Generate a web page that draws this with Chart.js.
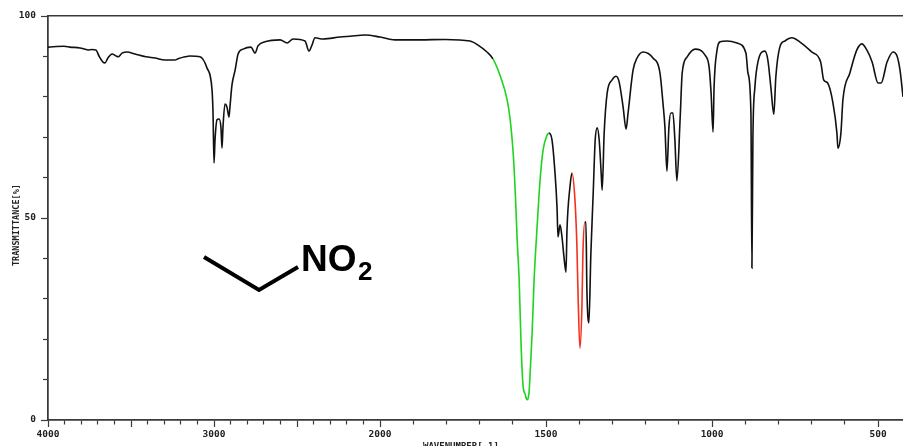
<!DOCTYPE html>
<html>
<head>
<meta charset="utf-8">
<title>IR spectrum of nitroethane</title>
<script src="https://cdn.jsdelivr.net/npm/chart.js@4"></script>
<style>
    html, body { margin: 0; background: #fff; overflow: hidden; }
    canvas { display: block; }
</style>
</head>
<body>
<canvas id="spectrum" width="903" height="446"></canvas>
<script>
const wavenumbers = [
    4000,3904,3867,3807,3759,3735,3711,3693,3669,3657,3639,3614,3590,3578,3554,3524,3476,3410,3355,3295,
    3235,3217,3175,3145,3084,3042,3012,3006,3000,2994,2982,2970,2958,2952,2946,2934,2922,2910,2904,2892,
    2873,2855,2825,2777,2753,2735,2693,2602,2560,2524,2452,2428,2410,2392,2343,2241,2181,2090,2000,1955,
    1880,1804,1729,1705,1678,1660,1639,1617,1608,1599,1593,1587,1581,1575,1569,1563,1560,1557,1554,1551,1548,1542,1536,1527,
    1518,1509,1497,1491,1482,1473,1467,1464,1458,1452,1446,1440,1437,1428,1422,1413,1407,1404,1398,1392,
    1389,1383,1380,1377,1371,1365,1358,1352,1346,1340,1334,1331,1325,1316,1301,1289,1280,1268,1259,1253,
    1238,1226,1208,1178,1157,1148,1142,1136,1130,1124,1118,1112,1106,1096,1090,1075,1051,1021,1009,1003,
    997,994,985,976,955,925,898,892,883,880,877,871,862,841,832,823,814,808,796,781,
    760,736,700,673,664,652,636,624,621,612,606,585,564,549,534,518,500,491,473,455,
    443,434,425
];
const transmittance = [
    92.3,92.5,92.3,92.1,91.6,91.7,91.6,90.1,88.6,88.4,89.6,90.6,90.1,89.9,90.8,91.1,90.6,89.9,89.6,89.1,
    89.1,89.4,89.9,90.1,89.9,87.1,81.7,76.0,63.6,69.3,74.3,74.5,72.3,67.3,72.5,78.2,77.5,75.0,77.5,82.9,
    86.6,90.6,91.8,92.3,90.8,92.6,93.6,94.1,93.3,94.3,93.8,91.3,92.8,94.6,94.3,94.8,95.0,95.3,94.8,94.1,
    94.1,94.2,93.8,92.8,91.1,89.4,85.4,79.2,74.3,66.1,56.9,44.6,34.7,18.1,8.2,6.4,5.4,5.0,5.4,7.0,11.6,21.5,34.7,47.8,
    59.4,66.8,70.5,71.0,69.3,61.1,52.7,45.3,48.3,45.3,40.3,36.6,47.0,57.7,61.1,54.5,42.8,32.2,17.8,28.0,
    41.3,49.0,49.0,32.2,24.0,41.3,56.2,69.3,72.3,69.3,61.1,56.9,71.0,80.9,84.2,85.1,83.7,77.5,72.0,76.0,
    86.6,89.6,91.1,89.6,85.9,78.5,72.5,61.6,72.5,76.0,76.0,69.3,59.2,75.0,85.9,89.9,91.8,90.3,87.4,80.9,
    71.3,82.4,91.6,93.6,93.8,93.3,90.8,85.9,76.0,37.6,70.0,82.4,88.6,91.3,89.1,82.4,75.7,84.9,92.3,93.8,
    94.6,93.6,91.1,88.6,84.2,83.4,78.5,71.0,67.3,71.0,79.2,85.9,91.6,93.1,91.6,88.6,83.4,83.4,88.6,91.1,
    90.1,86.6,80.0
];
// highlighted bands, high to low wavenumber
const greenBand = [1660, 1491];
const redBand = [1422, 1383];

const xMajorTicks = [4000,3500,3000,2500,2000,1500,1000,500];
const xLabelled = [4000,3000,2000,1500,1000,500];
const xMinorTicks = [3900,3800,3700,3600,3400,3300,3200,3100,2900,2800,2700,2600,2400,2300,2200,2100,
    1900,1800,1700,1600,1400,1300,1200,1100,900,800,700,600];
const yMajorTicks = [0,50,100];
const yMinorTicks = [10,20,30,40,60,70,80,90];

const xTitle = "WAVENUMBER[-1]";
const yTitle = "TRANSMITTANCE[%]";

// the axis is compressed above 2000, twice as many wavenumbers per pixel
function toAxis(w) {
    return w >= 2000 ? (4000 - w) / 2 : 1000 + (2000 - w);
}
function fromAxis(p) {
    return p <= 1000 ? 4000 - p * 2 : 2000 - (p - 1000);
}

const axisMax = toAxis(425);
const axisColor = "#3a3a3a";
const labelFont = { family: "DejaVu Sans Mono", size: 9.5, weight: "bold" };

function bandColor(ctx) {
    const w = fromAxis(ctx.p0.parsed.x);
    if (w <= greenBand[0] && w > greenBand[1]) return "#1fd31f";
    if (w <= redBand[0] && w > redBand[1]) return "#f5301c";
    return "#111";
}

function xScaleBase(values, len) {
    return {
        type: "linear",
        min: 0,
        max: axisMax,
        grid: { drawOnChartArea: false, tickLength: len, tickColor: axisColor, tickWidth: 1.2 },
        border: { color: axisColor, width: 1.5 },
        afterBuildTicks: s => { s.ticks = values.map(w => ({ value: toAxis(w) })); }
    };
}
function yScaleBase(values, len) {
    return {
        type: "linear",
        min: 0,
        max: 100,
        grid: { drawOnChartArea: false, tickLength: len, tickColor: axisColor, tickWidth: 1.2 },
        border: { color: axisColor, width: 1.5 },
        afterBuildTicks: s => { s.ticks = values.map(v => ({ value: v })); }
    };
}

// axis titles and the structure drawn on the plot
const annotations = {
    id: "annotations",
    afterDraw(chart) {
        const c = chart.ctx;
        c.save();
        c.fillStyle = "#222";
        c.textBaseline = "alphabetic";
        c.font = "bold 9px 'DejaVu Sans Mono'";
        c.fillText(xTitle, 423, 449);
        c.translate(19, 266);
        c.rotate(-Math.PI / 2);
        c.font = "bold 8.5px 'DejaVu Sans Mono'";
        c.fillText(yTitle, 0, 0);
        c.restore();

        c.save();
        c.strokeStyle = "#000";
        c.lineWidth = 4;
        c.beginPath();
        c.moveTo(204, 257);
        c.lineTo(259, 290);
        c.lineTo(298, 267);
        c.stroke();
        c.fillStyle = "#000";
        c.font = "bold 37px 'Liberation Sans'";
        c.fillText("NO", 301, 271);
        c.font = "bold 26px 'Liberation Sans'";
        c.fillText("2", 358, 280);
        c.restore();
    }
};

const xMain = xScaleBase(xMajorTicks, 7);
xMain.position = "bottom";
xMain.afterFit = s => { s.height = 26; };
xMain.ticks = {
    autoSkip: false,
    maxRotation: 0,
    padding: 2,
    color: "#222",
    font: labelFont,
    callback: v => {
        const w = Math.round(fromAxis(v));
        return xLabelled.includes(w) ? String(w) : "";
    }
};

const xMinor = xScaleBase(xMinorTicks, 4);
xMinor.position = { y: 0 };
xMinor.ticks = { display: false, autoSkip: false };

const xTop = xScaleBase([], 0);
xTop.position = { y: 100 };
xTop.ticks = { display: false };

const yMain = yScaleBase(yMajorTicks, 7);
yMain.position = "left";
yMain.afterFit = s => { s.width = 48; };
yMain.ticks = { autoSkip: false, padding: 5, color: "#222", font: labelFont };

const yMinor = yScaleBase(yMinorTicks, 4);
yMinor.position = { x: 0 };
yMinor.ticks = { display: false, autoSkip: false };

new Chart(document.getElementById("spectrum"), {
    type: "line",
    data: {
        datasets: [{
            data: wavenumbers.map((w, i) => ({ x: toAxis(w), y: transmittance[i] })),
            borderColor: "#111",
            borderWidth: 1.6,
            pointRadius: 0,
            cubicInterpolationMode: "monotone",
            fill: false,
            xAxisID: "x",
            yAxisID: "y",
            segment: { borderColor: bandColor }
        }]
    },
    options: {
        responsive: false,
        animation: false,
        layout: { padding: { top: 16, right: 0, left: 0, bottom: 0 } },
        plugins: { legend: { display: false }, tooltip: { enabled: false }, title: { display: false } },
        scales: { x: xMain, xMinor: xMinor, xTop: xTop, y: yMain, yMinor: yMinor }
    },
    plugins: [annotations]
});
</script>
</body>
</html>
